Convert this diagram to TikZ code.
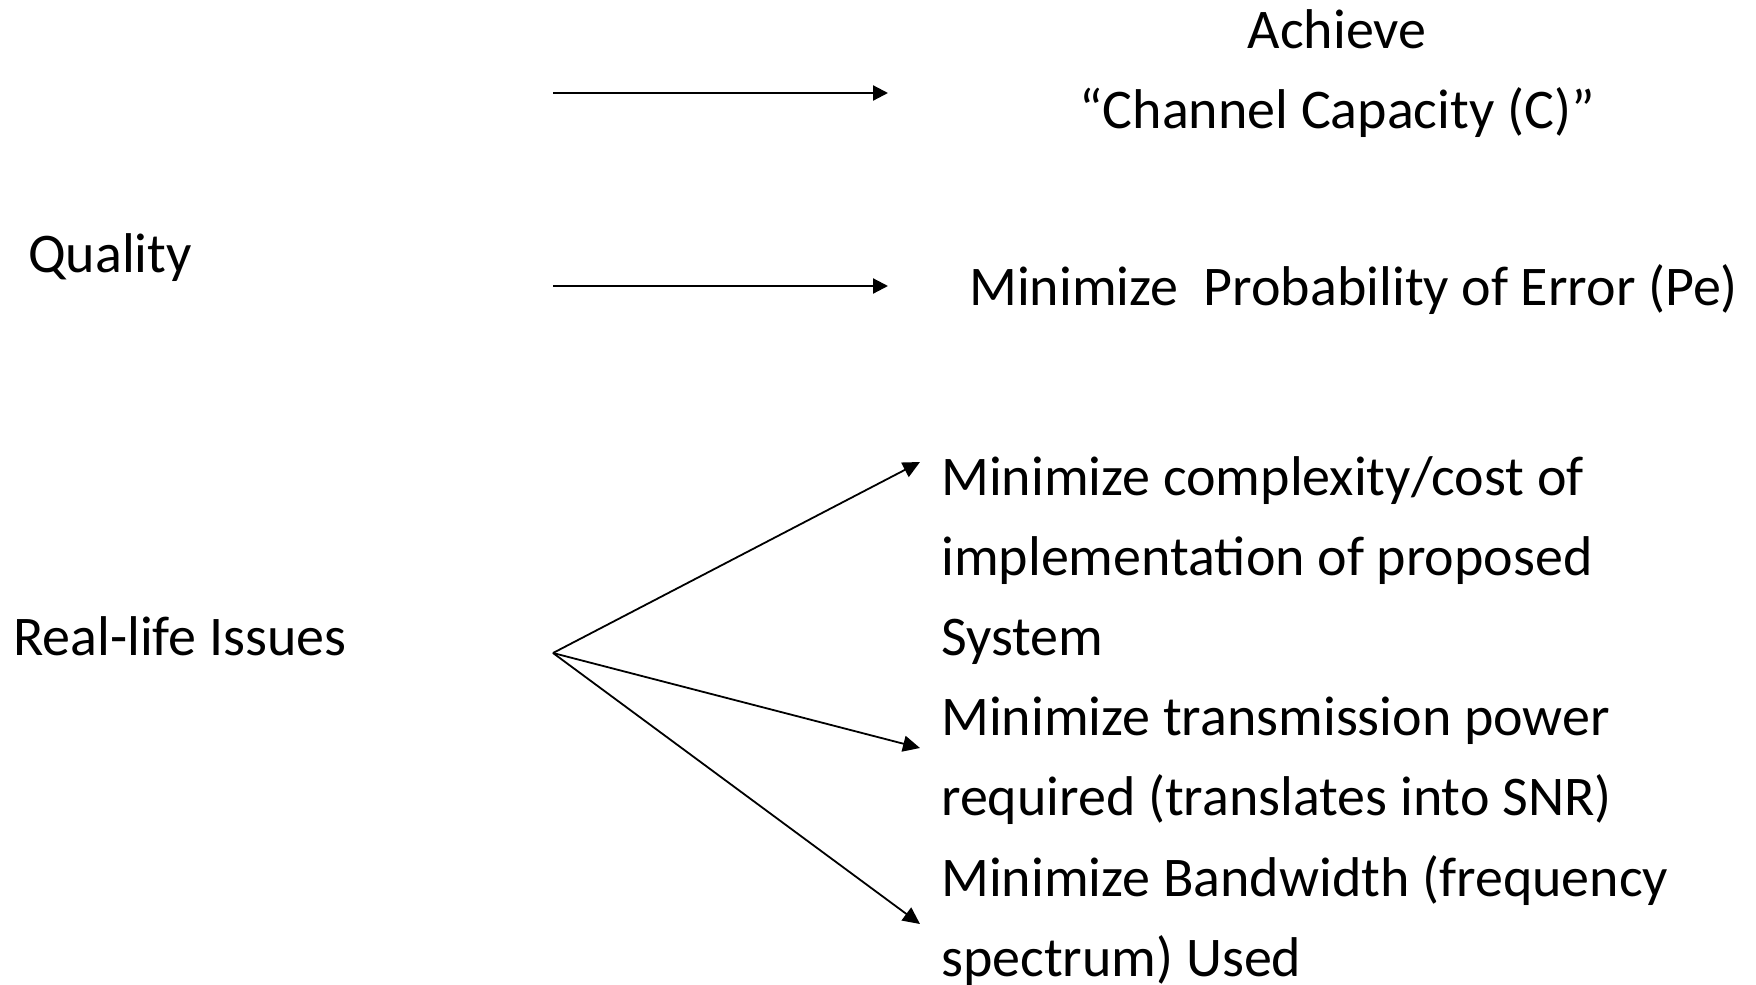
\documentclass[tikz,border=0pt]{standalone}
\usepackage{fontspec}
\setmainfont{Carlito}
\usetikzlibrary{arrows.meta}
\begin{document}
\begin{tikzpicture}[x=1pt,y=-1pt,
  lbl/.style={inner sep=0pt, anchor=base west, font=\fontsize{56}{80}\selectfont},
  arr/.style={line width=2.2pt, -{Triangle[length=15pt,width=15pt]}},
  fanarr/.style={line width=1.8pt, -{Triangle[length=17pt,width=16pt]}}]
  \useasboundingbox (0,0) rectangle (1756,985);

  % left-hand labels
  \node[lbl] (quality) at (28,272) {Quality};
  \node[lbl] (real) at (13,655) {Real-life Issues};

  % goals on the right
  \node[lbl, anchor=base] (cap) at (1337,48)
    {\begin{tabular}[t]{@{}c@{}}Achieve\\“Channel Capacity (C)”\end{tabular}};
  \node[lbl] (pe) at (969,305) {Minimize\ \ Probability of Error (Pe)};
  \node[lbl] (cost) at (941,495)
    {\begin{tabular}[t]{@{}l@{}}Minimize complexity/cost of\\implementation of proposed\\System\end{tabular}};
  \node[lbl] (power) at (941,735)
    {\begin{tabular}[t]{@{}l@{}}Minimize transmission power\\required (translates into SNR)\end{tabular}};
  \node[lbl] (bw) at (941,896)
    {\begin{tabular}[t]{@{}l@{}}Minimize Bandwidth (frequency\\spectrum) Used\end{tabular}};

  % arrow end points
  \coordinate (a1s) at (553,93);
  \coordinate (a1e) at (888,93);
  \coordinate (a2s) at (553,286);
  \coordinate (a2e) at (888,286);
  \coordinate (fan) at (553,653);
  \coordinate (t1) at (920,462);
  \coordinate (t2) at (920,748);
  \coordinate (t3) at (920,924);

  \draw[arr] (a1s) -- (a1e);
  \draw[arr] (a2s) -- (a2e);
  \draw[fanarr] (fan) -- (t1);
  \draw[fanarr] (fan) -- (t2);
  \draw[fanarr] (fan) -- (t3);
\end{tikzpicture}
\end{document}
